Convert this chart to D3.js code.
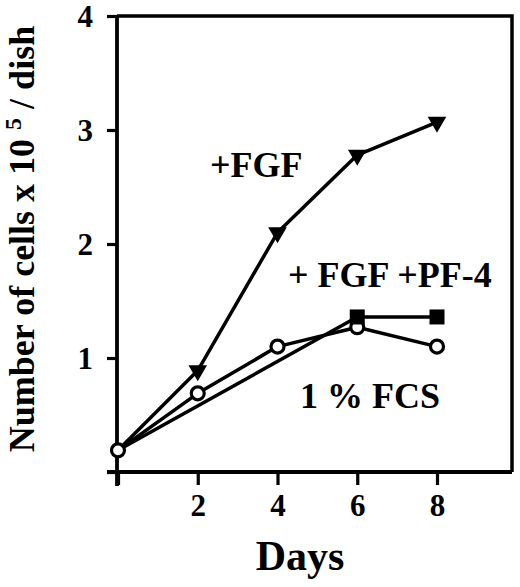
<!DOCTYPE html>
<html><head><meta charset="utf-8">
<script src="https://cdn.jsdelivr.net/npm/d3@7"></script>
<style>html,body{margin:0;padding:0;background:#fff;}svg{display:block;}text{font-family:"Liberation Serif","Times New Roman",serif;font-weight:bold;fill:#000;}</style>
</head><body>
<script>
const days = [0, 2, 4, 6, 8];
const fgf = [0.19, 0.89, 2.10, 2.78, 3.07];
const fcs = [0.19, 0.69, 1.10, 1.27, 1.10];
const pf4Days = [0, 6, 8];
const pf4 = [0.19, 1.36, 1.36];
const xTicks = [0, 2, 4, 6, 8];
const yTicks = [0, 1, 2, 3, 4];

const W = 520, H = 587;
const svg = d3.select("body").append("svg").attr("width", W).attr("height", H);
const x = d3.scaleLinear().domain([0, 8]).range([118, 437]);
const y = d3.scaleLinear().domain([0, 4]).range([472, 16]);
const xL = 117, xR = 512, yT = 16, yB = 472;

// frame
svg.append("path").attr("d", `M${xL},${yT}H${xR}V${yB}`).attr("fill", "none").attr("stroke", "#000").attr("stroke-width", 3.5);

const yAxis = d3.axisLeft(y).tickValues(yTicks).tickSize(10).tickPadding(14)
  .tickFormat(d => d === 0 ? "" : d);
const gy = svg.append("g").attr("transform", `translate(${xL},0)`).call(yAxis);
gy.select(".domain").remove();
gy.selectAll(".tick line").attr("stroke-width", 3.2);
gy.selectAll(".tick text").attr("font-size", 31).attr("font-family", null).attr("dy", "0.34em");
svg.append("line").attr("x1", xL).attr("x2", xL).attr("y1", yT).attr("y2", yB + 14).attr("stroke", "#000").attr("stroke-width", 3.8);

const xAxis = d3.axisBottom(x).tickValues(xTicks).tickSize(13).tickPadding(9)
  .tickFormat(d => d === 0 ? "" : d);
const gx = svg.append("g").attr("transform", `translate(0,${yB})`).call(xAxis);
gx.select(".domain").remove();
gx.selectAll(".tick line").attr("stroke-width", 3.2);
gx.selectAll(".tick text").attr("font-size", 31).attr("font-family", null);
svg.append("line").attr("x1", xL - 10).attr("x2", xR).attr("y1", yB).attr("y2", yB).attr("stroke", "#000").attr("stroke-width", 3.8);

// lines
const line = d3.line().x(d => x(d[0])).y(d => y(d[1]));
const series = [
  days.map((d, i) => [d, fgf[i]]),
  days.map((d, i) => [d, fcs[i]]),
  pf4Days.map((d, i) => [d, pf4[i]])
];
svg.selectAll("path.series").data(series).enter().append("path").attr("class", "series")
  .attr("d", line).attr("fill", "none").attr("stroke", "#000").attr("stroke-width", 3.5).attr("stroke-linejoin", "round");

// triangles (down)
const tri = d3.symbol().type(d3.symbolTriangle).size(150);
svg.selectAll("path.tri").data(days.slice(1).map((d, i) => [d, fgf[i + 1]])).enter().append("path")
  .attr("d", tri).attr("transform", d => `translate(${x(d[0])},${y(d[1])}) rotate(180)`).attr("fill", "#000");
// circles
svg.selectAll("circle.fcs").data(days.map((d, i) => [d, fcs[i]])).enter().append("circle")
  .attr("cx", d => x(d[0])).attr("cy", d => y(d[1])).attr("r", 6.5)
  .attr("fill", "#fff").attr("stroke", "#000").attr("stroke-width", 3.2);
// squares
svg.selectAll("rect.pf").data(pf4Days.slice(1).map((d, i) => [d, pf4[i + 1]])).enter().append("rect")
  .attr("x", d => x(d[0]) - 7.5).attr("y", d => y(d[1]) - 7.5).attr("width", 15).attr("height", 15).attr("fill", "#000");

// annotations
svg.append("text").attr("x", 210).attr("y", 177).attr("font-size", 36).text("+FGF");
svg.append("text").attr("x", 288).attr("y", 287).attr("font-size", 36).text("+ FGF +PF-4");
svg.append("text").attr("x", 300).attr("y", 408).attr("font-size", 36).text("1 % FCS");

// axis titles
svg.append("text").attr("x", 300).attr("y", 570).attr("text-anchor", "middle").attr("font-size", 42).text("Days");
const yt = svg.append("text").attr("transform", "translate(34,239) rotate(-90)").attr("text-anchor", "middle").attr("font-size", 36);
yt.append("tspan").text("Number of cells x 10 ");
yt.append("tspan").attr("font-size", 24).attr("dy", -13).text("5");
yt.append("tspan").attr("dy", 13).text(" / dish");
</script>
</body></html>
